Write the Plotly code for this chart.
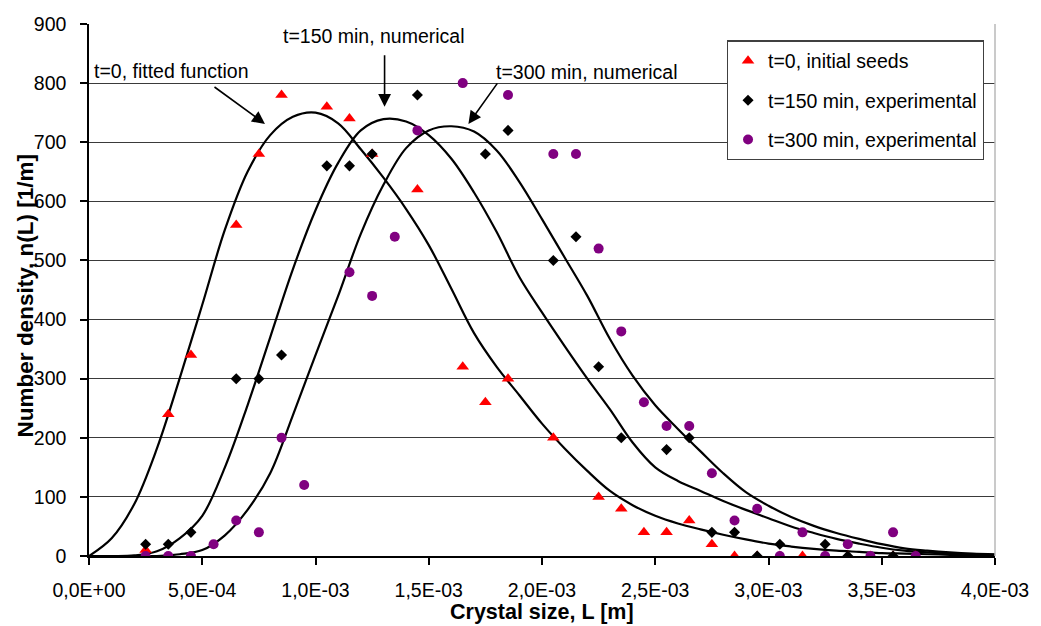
import numpy as np
import plotly.graph_objects as go

# ---- data (x in units of 1E-4 m, converted below) ----
seeds_x = [2.5, 3.5, 4.5, 6.5, 7.5, 8.5, 10.5, 11.5, 12.5, 14.5, 16.5, 17.5, 18.5, 20.5,
           22.5, 23.5, 24.5, 25.5, 26.5, 27.5, 28.5, 29.5, 30.5, 31.5, 32.5, 33.5, 34.5, 35.5, 36.5]
seeds_y = [10, 240, 340, 560, 680, 780, 760, 740, 680, 620, 320, 260, 300, 200,
           100, 80, 40, 40, 60, 20, 0, 0, 0, 0, 0, 0, 0, 0, 0]

exp150_x = [2.5, 3.5, 4.5, 6.5, 7.5, 8.5, 10.5, 11.5, 12.5, 14.5, 17.5, 18.5, 20.5, 21.5,
            22.5, 23.5, 25.5, 26.5, 27.5, 28.5, 29.5, 30.5, 32.5, 33.5, 35.5]
exp150_y = [20, 20, 40, 300, 300, 340, 660, 660, 680, 780, 680, 720, 500, 540,
            320, 200, 180, 200, 40, 40, 0, 20, 20, 0, 0]

exp300_x = [2.5, 3.5, 4.5, 5.5, 6.5, 7.5, 8.5, 9.5, 11.5, 12.5, 13.5, 14.5, 16.5, 18.5,
            20.5, 21.5, 22.5, 23.5, 24.5, 25.5, 26.5, 27.5, 28.5, 29.5, 30.5, 31.5, 32.5,
            33.5, 34.5, 35.5, 36.5]
exp300_y = [0, 0, 0, 20, 60, 40, 200, 120, 480, 440, 540, 720, 800, 780,
            680, 680, 520, 380, 260, 220, 220, 140, 60, 80, 0, 40, 0,
            20, 0, 40, 0]

curve_x = list(range(0, 41))
fit0_y = [0, 30, 88, 182, 300, 425, 552, 650, 712, 743, 750, 732, 688, 640, 587, 526, 452,
          377, 320, 272, 224, 182, 144, 110, 86, 68, 55, 45, 36, 28, 21, 16, 12, 9, 7, 5,
          4, 3, 2, 1, 1]
num150_y = [0, 0, 1, 8, 30, 68, 150, 255, 370, 485, 585, 665, 720, 739, 735, 712, 672, 615,
            548, 472, 412, 355, 300, 248, 192, 150, 127, 110, 93, 78, 64, 50, 39, 29, 21, 14,
            9, 6, 4, 3, 2]
num300_y = [0, 0, 0, 0, 3, 10, 35, 78, 140, 238, 340, 440, 545, 628, 690, 720, 727, 718,
            686, 633, 570, 505, 440, 367, 305, 255, 215, 177, 140, 108, 85, 66, 51, 39, 29,
            20, 13, 9, 6, 4, 3]

x_tickvals = [0, 5, 10, 15, 20, 25, 30, 35, 40]
x_ticktext = ["0,0E+00", "5,0E-04", "1,0E-03", "1,5E-03", "2,0E-03",
              "2,5E-03", "3,0E-03", "3,5E-03", "4,0E-03"]
y_tickvals = [0, 100, 200, 300, 400, 500, 600, 700, 800, 900]

S = 1e-4
def m(v):
    return [a * S for a in v]

FONT = "Liberation Sans, Arial, sans-serif"

fig = go.Figure()
for cy in (fit0_y, num150_y, num300_y):
    fig.add_trace(go.Scatter(x=m(curve_x), y=cy, mode="lines",
                             line=dict(color="black", width=2.2, shape="spline", smoothing=1.0),
                             showlegend=False, hoverinfo="skip"))

fig.add_trace(go.Scatter(x=m(seeds_x), y=seeds_y, mode="markers", name="t=0, initial seeds",
                         legendgroup="a",
                         marker=dict(symbol="triangle-up", size=11, color="#FF0000")))
fig.add_trace(go.Scatter(x=m(exp150_x), y=exp150_y, mode="markers", name="t=150 min, experimental",
                         legendgroup="b",
                         marker=dict(symbol="diamond", size=8.5, color="black")))
fig.add_trace(go.Scatter(x=m(exp300_x), y=exp300_y, mode="markers", name="t=300 min, experimental",
                         legendgroup="c",
                         marker=dict(symbol="circle", size=10, color="#800080")))

# text labels
labels = [
    ("t=0, fitted function", 0.12e-4, 821),
    ("t=150 min, numerical", 8.48e-4, 880),
    ("t=300 min, numerical", 17.9e-4, 818),
]
for txt, lx, ly in labels:
    fig.add_annotation(x=lx, y=ly, text=txt, showarrow=False, xanchor="left", yanchor="middle",
                       font=dict(family=FONT, size=19.5, color="black"))

# arrows (head in data coords, tail offset in px)
arrows = [(7.77e-4, 731, -52, -38), (13.05e-4, 760, 0, -53), (16.75e-4, 731, 30, -42)]
for hx, hy, ax, ay in arrows:
    fig.add_annotation(x=hx, y=hy, text="", showarrow=True, ax=ax, ay=ay,
                       arrowhead=2, arrowsize=1.6, arrowwidth=1.6, arrowcolor="black")

# axis titles
fig.add_annotation(xref="paper", yref="paper", x=0.5, y=0, yshift=-56, showarrow=False,
                   text="<b>Crystal size, L [m]</b>", xanchor="center", yanchor="middle",
                   font=dict(family=FONT, size=21.5, color="black"))
fig.add_annotation(xref="paper", yref="paper", x=0, xshift=-64, y=0.488, showarrow=False,
                   text="<b>Number density, n(L) [1/m]</b>", textangle=-90,
                   xanchor="center", yanchor="middle",
                   font=dict(family=FONT, size=22.5, color="black"))

# right border of the plot area
fig.add_shape(type="line", xref="paper", yref="paper", x0=1, x1=1, y0=0, y1=1,
              line=dict(color="#b8b8b8", width=1.5))

fig.update_layout(
    width=1041, height=626,
    margin=dict(l=89, r=38, t=24, b=70),
    paper_bgcolor="white", plot_bgcolor="white",
    font=dict(family=FONT, size=19.5, color="black"),
    xaxis=dict(range=[0, 40 * S], tickvals=m(x_tickvals), ticktext=x_ticktext,
               showgrid=False, zeroline=False, showline=True, linecolor="black", linewidth=1.5,
               ticks="outside", ticklen=7, tickcolor="black", tickwidth=1.5,
               ticklabelstandoff=9, tickfont=dict(family=FONT, size=19.5)),
    yaxis=dict(range=[0, 900], tickvals=y_tickvals, showgrid=True, gridcolor="#3a3a3a",
               gridwidth=1, zeroline=False, showline=True, linecolor="black", linewidth=1.5,
               ticks="outside", ticklen=7, tickcolor="black", tickwidth=1.5,
               ticklabelstandoff=10, tickfont=dict(family=FONT, size=19.5)),
    legend=dict(x=0.704, y=0.969, xanchor="left", yanchor="top",
                bgcolor="white", bordercolor="#404040", borderwidth=1.2,
                font=dict(family=FONT, size=19.5, color="black"),
                tracegroupgap=11),
    showlegend=True,
)

fig.write_html("out.html")
